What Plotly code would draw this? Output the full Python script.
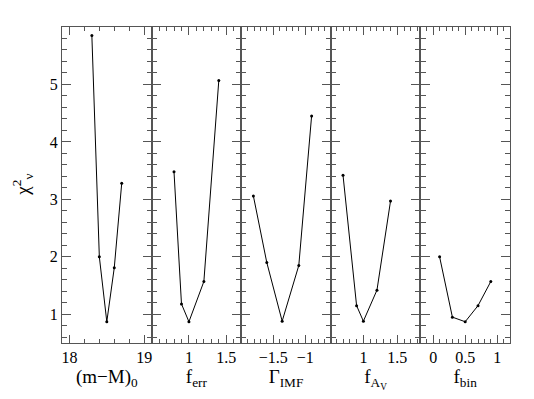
import plotly.graph_objects as go
from plotly.subplots import make_subplots

# chi^2_nu against each fitted parameter
dm = [18.3, 18.4, 18.5, 18.6, 18.7]
chi_dm = [5.85, 2.0, 0.87, 1.81, 3.28]

ferr = [0.8, 0.9, 1.0, 1.2, 1.4]
chi_ferr = [3.48, 1.18, 0.87, 1.57, 5.07]

gimf = [-1.81, -1.6, -1.36, -1.1, -0.9]
chi_gimf = [3.06, 1.90, 0.88, 1.85, 4.45]

fav = [0.7, 0.9, 1.0, 1.2, 1.4]
chi_fav = [3.42, 1.15, 0.88, 1.42, 2.97]

fbin = [0.1, 0.3, 0.5, 0.7, 0.9]
chi_fbin = [2.0, 0.95, 0.87, 1.15, 1.57]

panels = [
    (dm, chi_dm, [17.9, 19.1], [18, 19], ["18", "19"], 0.2, "(m\u2212M)<sub>0</sub>"),
    (ferr, chi_ferr, [0.5, 1.7], [1, 1.5], ["1", "1.5"], 0.1, "f<sub>err</sub>"),
    (gimf, chi_gimf, [-2.0, -0.6], [-1.5, -1], ["\u22121.5", "\u22121"], 0.1, "\u0393<sub>IMF</sub>"),
    (fav, chi_fav, [0.52, 1.84], [1, 1.5], ["1", "1.5"], 0.1, "f<sub>A<sub>V</sub></sub>"),
    (fbin, chi_fbin, [-0.2, 1.2], [0, 0.5, 1], ["0", "0.5", "1"], 0.1, "f<sub>bin</sub>"),
]

FONT = "Liberation Serif"
AX = "#555555"

fig = make_subplots(rows=1, cols=5, horizontal_spacing=0, shared_yaxes=False)

for i, (x, y, rng, tv, tt, mdt, lab) in enumerate(panels):
    col = i + 1
    fig.add_trace(go.Scatter(
        x=x, y=y, mode="lines+markers",
        line=dict(color="black", width=1),
        marker=dict(color="black", size=3),
        showlegend=False,
    ), row=1, col=col)
    fig.update_xaxes(
        range=rng, tickvals=tv, ticktext=tt,
        ticks="inside", ticklen=8, tickwidth=1, tickcolor=AX,
        minor=dict(ticks="inside", ticklen=4, tickwidth=1, dtick=mdt, tick0=0,
                   tickcolor=AX, showgrid=False),
        showline=True, linecolor=AX, linewidth=1.2, mirror="allticks",
        showgrid=False, zeroline=False,
        tickfont=dict(family=FONT, size=16, color="black"),
        title=dict(text=lab, font=dict(family=FONT, size=19, color="black"), standoff=2),
        row=1, col=col,
    )
    fig.update_yaxes(
        range=[0.5, 6], tickvals=[1, 2, 3, 4, 5],
        ticks="inside", ticklen=9, tickwidth=1, tickcolor=AX,
        minor=dict(ticks="inside", ticklen=5, tickwidth=1, dtick=0.2, tick0=0,
                   tickcolor=AX, showgrid=False),
        showline=True, linecolor=AX, linewidth=1.2, mirror="allticks",
        showgrid=False, zeroline=False,
        showticklabels=(col == 1),
        tickfont=dict(family=FONT, size=16, color="black"),
        row=1, col=col,
    )

fig.add_annotation(
    text="\u03c7<sup>2</sup><sub>\u03bd</sub>", textangle=-90,
    xref="paper", yref="paper", x=-0.09, y=0.5,
    xanchor="center", yanchor="middle", showarrow=False,
    font=dict(family=FONT, size=19, color="black"),
)

fig.update_layout(
    width=534, height=399,
    margin=dict(l=54, r=32, t=19, b=64),
    plot_bgcolor="white", paper_bgcolor="white",
)

fig.write_html("out.html")
